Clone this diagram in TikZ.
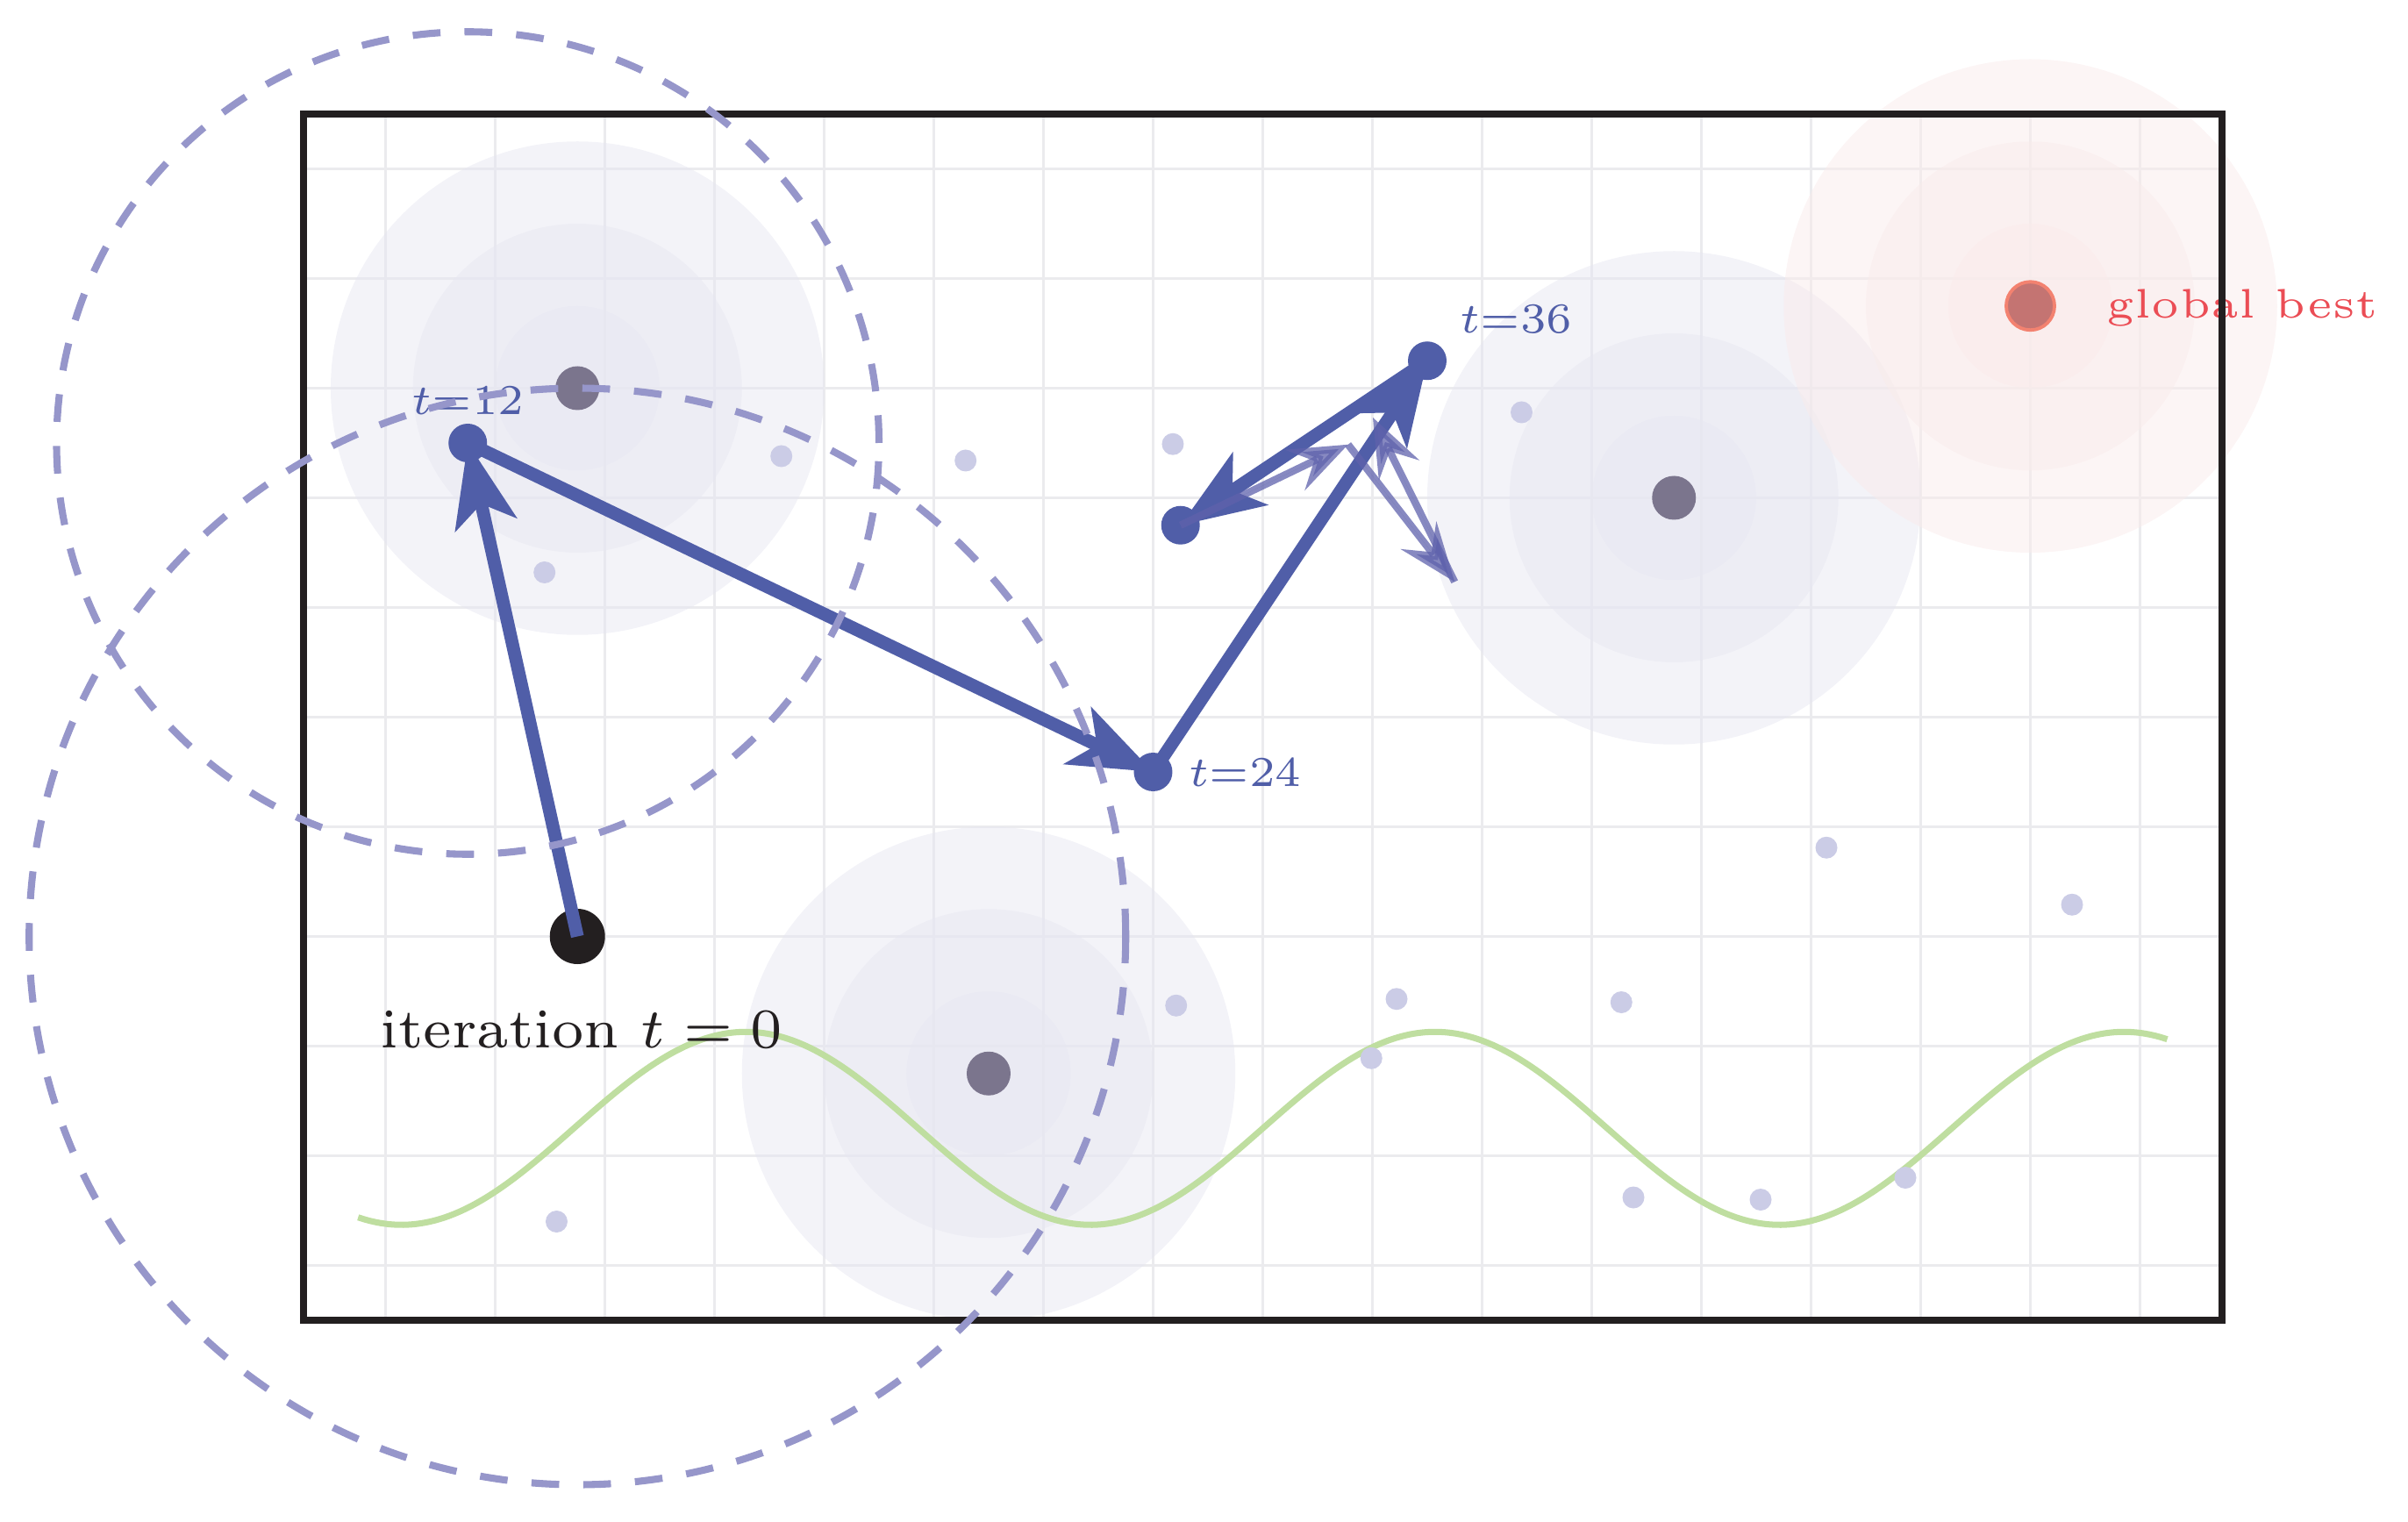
\documentclass[tikz,border=0pt]{standalone}
\usetikzlibrary{arrows.meta}
\definecolor{frameink}{RGB}{35,31,32}
\definecolor{gridink}{RGB}{235,235,238}
\definecolor{lav}{RGB}{231,231,241}
\definecolor{pinkb}{RGB}{249,235,235}
\definecolor{darkopt}{RGB}{123,117,141}
\definecolor{traj}{RGB}{80,94,168}
\definecolor{lightarr}{RGB}{95,98,172}
\definecolor{dashink}{RGB}{150,150,202}
\definecolor{waveink}{RGB}{191,222,160}
\definecolor{dotink}{RGB}{203,204,230}
\definecolor{gbfill}{RGB}{196,116,114}
\definecolor{gbdraw}{RGB}{243,130,112}
\definecolor{gbtext}{RGB}{235,77,85}
\begin{document}
\begin{tikzpicture}[x=1.25cm,y=1.25cm,
  blob/.style={fill=lav,fill opacity=0.5},
  pblob/.style={fill=pinkb,fill opacity=0.5},
  optnode/.style={circle,fill=darkopt,inner sep=0pt,minimum size=0.5cm},
  posnode/.style={circle,fill=traj,inner sep=0pt,minimum size=0.44cm},
  bgdot/.style={circle,fill=dotink,inner sep=0pt,minimum size=0.25cm},
  mainarrow/.style={draw=traj,line width=4.2pt,-{Stealth[length=27pt,width=20.2pt,inset=6.8pt]}},
  lightarrow/.style={draw=lightarr,fill=lightarr,opacity=0.75,line width=2.4pt,-{Stealth[length=19pt,width=14.5pt,inset=6.8pt]}},
  dashcirc/.style={draw=dashink,line width=2.3pt,dash pattern=on 9pt off 7.8pt},
  lbl/.style={text=traj,font=\fontsize{6}{7}\selectfont,scale=2.30,inner sep=0pt},
  itlbl/.style={text=frameink,font=\fontsize{7}{8.5}\selectfont,scale=2.6,inner sep=0pt},
  gblbl/.style={text=gbtext,font=\fontsize{5}{6}\selectfont,scale=2.68,inner sep=0pt}
]
\useasboundingbox (-11.516,-7.34) rectangle (10.444,6.54);

% grid
\begin{scope}
  \clip (-8.75,-5.5) rectangle (8.75,5.5);
  \draw[gridink,line width=0.65pt,step=1.25cm] (-8.75,-5.5) grid (8.75,5.5);
\end{scope}

% attraction basins
\foreach \c in {(-6.25,3),(3.75,2),(-2.5,-3.25)}{
  \fill[blob] \c circle (2.25);
  \fill[blob] \c circle (1.5);
  \fill[blob] \c circle (0.75);
}
\fill[pblob] (7,3.75) circle (2.25);
\fill[pblob] (7,3.75) circle (1.5);
\fill[pblob] (7,3.75) circle (0.75);

% landscape curve
\draw[waveink,line width=2pt] plot[domain=-8.25:8.25,samples=240,smooth] (\x,{-3.75+0.88*sin(\x r)});

% other particles
\foreach \p [count=\i] in {(-4.39,2.38),(-2.71,2.34),(-6.55,1.32),(-0.82,2.49),(2.36,2.78),
  (-0.79,-2.63),(1.22,-2.57),(0.99,-3.11),(3.27,-2.60),(5.14,-1.19),(7.38,-1.71),
  (-6.44,-4.60),(3.38,-4.38),(4.54,-4.40),(5.86,-4.20)}{
  \node[bgdot] (d\i) at \p {};
}

% local optima
\node[optnode] (o1) at (-6.25,3) {};
\node[optnode] (o2) at (3.75,2) {};
\node[optnode] (o3) at (-2.5,-3.25) {};
\node[circle,fill=gbfill,draw=gbdraw,line width=1.1pt,inner sep=0pt,minimum size=0.55cm] (gb) at (7,3.75) {};
\node[gblbl,anchor=base west] (lgb) at (7.684,3.638) {global best};

% trajectory
\node[circle,fill=frameink,inner sep=0pt,minimum size=0.63cm] (t0) at (-6.25,-2) {};
\node[posnode] (t12) at (-7.25,2.5) {};
\node[posnode] (t24) at (-1,-0.5) {};
\node[posnode] (t36) at (1.5,3.25) {};
\node[posnode] (t48) at (-0.75,1.75) {};
\draw[mainarrow] (t0.center) -- (t12.center);
\draw[mainarrow] (t12.center) -- (t24.center);
\draw[mainarrow] (t24.center) -- (t36.center);
\draw[mainarrow] (t36.center) -- (t48.center);

\node[lbl,anchor=base] (l12) at (-7.248,2.756) {$t{=}12$};
\node[lbl,anchor=base west] (l24) at (-0.684,-0.634) {$t{=}24$};
\node[lbl,anchor=base west] (l36) at (1.788,3.5) {$t{=}36$};
\node[itlbl,anchor=base west] (l0) at (-8.063,-3.014) {iteration $t = 0$};

% frame
\draw[frameink,line width=2.3pt] (-8.75,-5.5) rectangle (8.75,5.5);

% search radii
\draw[dashcirc] (t12.center) circle (3.75);
\draw[dashcirc] (t0.center) circle (5);

% velocity components
\coordinate (la) at (0.778,2.486);
\coordinate (lb) at (1.750,1.234);
\coordinate (lc) at (1.004,2.732);
\draw[lightarrow] (t48.center) -- (la);
\draw[lightarrow] (la) -- (lb);
\draw[lightarrow] (lb) -- (lc);
\end{tikzpicture}
\end{document}
